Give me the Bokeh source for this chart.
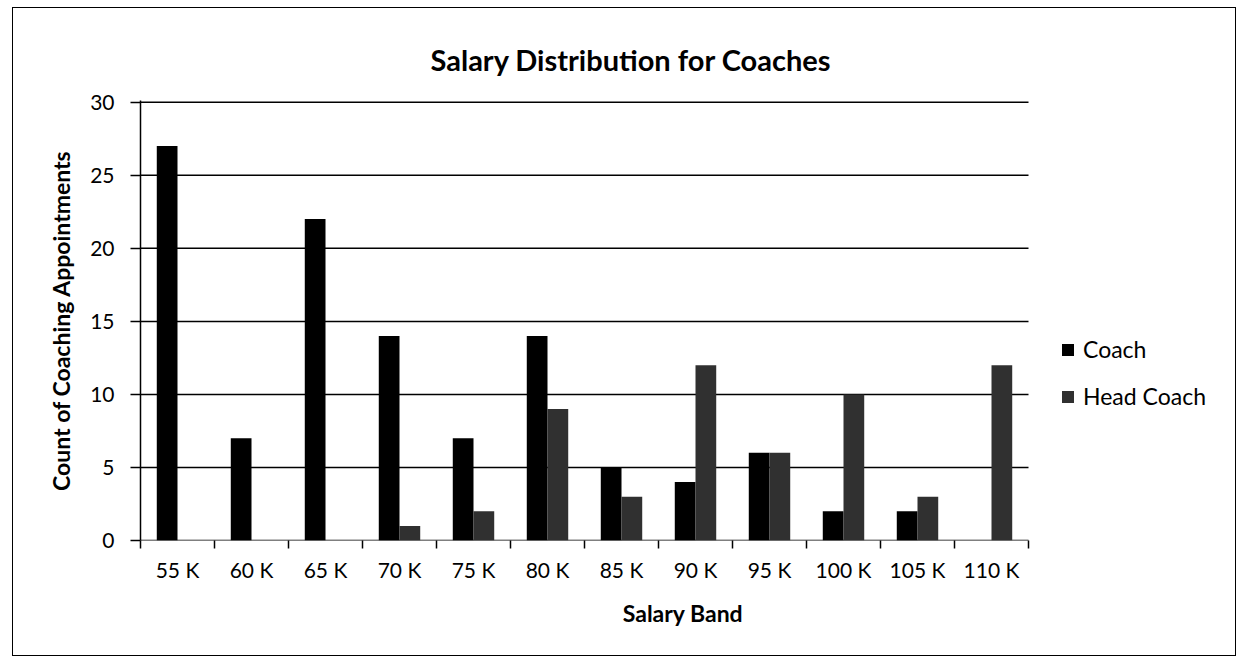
from bokeh.plotting import figure
from bokeh.models import ColumnDataSource, FixedTicker, Legend, LegendItem, Range1d, Title
from bokeh.embed import file_html
from bokeh.resources import INLINE

bands = ["55 K", "60 K", "65 K", "70 K", "75 K", "80 K", "85 K", "90 K", "95 K", "100 K", "105 K", "110 K"]
coach = [27, 7, 22, 14, 7, 14, 5, 4, 6, 2, 2, 0]
head_coach = [0, 0, 0, 1, 2, 9, 3, 12, 6, 10, 3, 12]
y_ticks = [0, 5, 10, 15, 20, 25, 30]

n = len(bands)
centers = [i + 0.5 for i in range(n)]
bw = 0.28
src = ColumnDataSource(dict(
    xc=[c - bw / 2 for c in centers],
    xh=[c + bw / 2 for c in centers],
    coach=coach, head=head_coach))

# the frame is extended to the right so the legend can sit beside the bars
PLOT_W = 888
FRAME_W = 1085
FONT = "Lato"
p = figure(frame_width=FRAME_W, frame_height=440, output_backend="svg", toolbar_location=None,
           x_range=Range1d(0, n * FRAME_W / PLOT_W), y_range=Range1d(0, 30.12),
           min_border_left=127, min_border_right=10, min_border_top=92, min_border_bottom=115)
p.title = None
p.add_layout(Title(text="Salary Distribution for Coaches", align="left", text_font=FONT,
                   text_font_size="29px", text_font_style="bold", text_color="black",
                   offset=290, standoff=48), "above")

# horizontal gridlines drawn only across the category area
p.segment(x0=[0] * len(y_ticks), x1=[n] * len(y_ticks), y0=y_ticks, y1=y_ticks,
          line_color="black", line_width=1.5)

r1 = p.vbar(x="xc", top="coach", width=bw, bottom=0, source=src, fill_color="black", line_color=None)
r2 = p.vbar(x="xh", top="head", width=bw, bottom=0, source=src, fill_color="#303030", line_color=None)

p.outline_line_color = None
p.background_fill_color = "white"
p.border_fill_color = "white"
p.xgrid.grid_line_color = None
p.ygrid.grid_line_color = None

# y axis
p.yaxis.ticker = FixedTicker(ticks=y_ticks)
p.yaxis.axis_line_color = "black"
p.yaxis.axis_line_width = 1.5
p.yaxis.major_tick_out = 10
p.yaxis.major_tick_in = 0
p.yaxis.major_tick_line_color = "black"
p.yaxis.major_tick_line_width = 1.5
p.yaxis.minor_tick_line_color = None
p.yaxis.major_label_text_font = FONT
p.yaxis.major_label_text_font_size = "21px"
p.yaxis.major_label_text_color = "black"
p.yaxis.major_label_standoff = 16
p.yaxis.axis_label = "Count of Coaching Appointments"
p.yaxis.axis_label_text_font = FONT
p.yaxis.axis_label_text_font_size = "23px"
p.yaxis.axis_label_text_font_style = "bold"
p.yaxis.axis_label_text_color = "black"
p.yaxis.axis_label_standoff = 12

# x axis (ticks between categories, labels at centres)
p.xaxis.ticker = FixedTicker(ticks=centers, minor_ticks=list(range(n + 1)))
p.xaxis.major_label_overrides = {c: b for c, b in zip(centers, bands)}
p.xaxis.axis_line_color = None
p.xaxis.major_tick_out = 0
p.xaxis.major_tick_in = 0
p.xaxis.minor_tick_out = 8
p.xaxis.minor_tick_in = 0
p.xaxis.minor_tick_line_color = "black"
p.xaxis.minor_tick_line_width = 1.5
p.xaxis.major_label_text_font = FONT
p.xaxis.major_label_text_font_size = "21px"
p.xaxis.major_label_text_color = "black"
p.xaxis.major_label_standoff = 8
p.xaxis.axis_label = "Salary Band"
p.xaxis.axis_label_text_font = FONT
p.xaxis.axis_label_text_font_size = "23px"
p.xaxis.axis_label_text_font_style = "bold"
p.xaxis.axis_label_text_color = "black"
p.xaxis.axis_label_standoff = 14

legend = Legend(items=[LegendItem(label="Coach", renderers=[r1]),
                       LegendItem(label="Head Coach", renderers=[r2])],
                location=(920, 130), border_line_color=None, background_fill_alpha=0,
                label_text_font=FONT, label_text_font_size="23px", label_text_color="black",
                glyph_width=15, glyph_height=15, label_height=20, spacing=19, label_standoff=8)
p.add_layout(legend, "center")

p.styles = {"border": "1.5px solid black", "margin-left": "12px", "margin-top": "7px"}

open("out.html", "w").write(file_html(p, INLINE))
